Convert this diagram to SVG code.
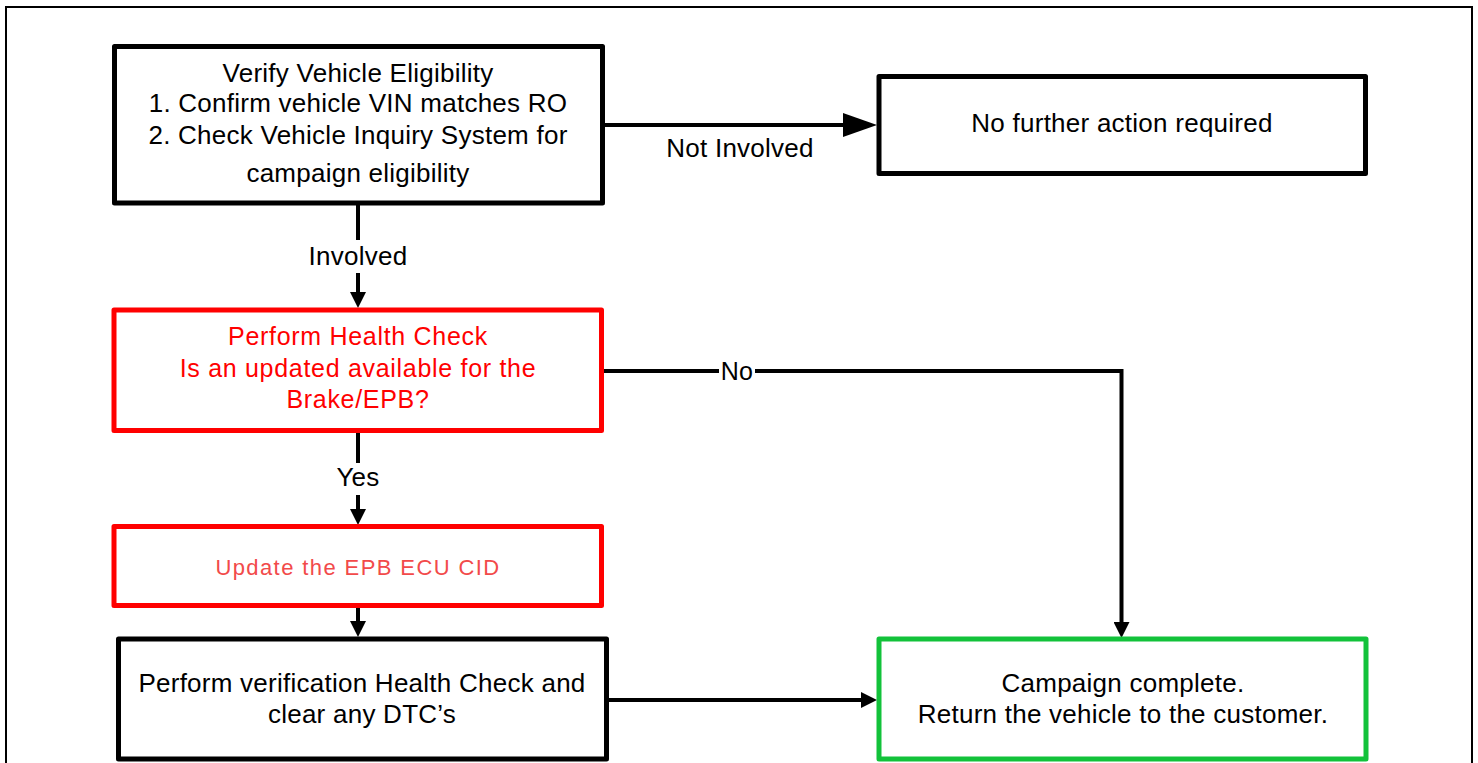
<svg xmlns="http://www.w3.org/2000/svg" width="1478" height="763" viewBox="0 0 1478 763">
<style>
  .box { fill: #ffffff; stroke-width: 5; stroke-linejoin: round; }
  .blk { stroke: #000000; }
  .red { stroke: #ff0000; }
  .grn { stroke: #12c23a; }
  .t { font-family: "Liberation Sans", Arial, sans-serif; font-size: 26px; fill: #000000; text-anchor: middle; letter-spacing: 0.25px; }
  .tr { font-family: "Liberation Sans", Arial, sans-serif; font-size: 25px; fill: #ff0000; text-anchor: middle; letter-spacing: 0.7px; }
  .tu { font-family: "Liberation Sans", Arial, sans-serif; font-size: 22px; fill: #f24a4a; text-anchor: middle; letter-spacing: 1.4px; }
  .ln { fill: none; stroke: #000000; stroke-width: 4; }
</style>
<defs>
  <marker id="arr" markerUnits="userSpaceOnUse" markerWidth="16" markerHeight="16" refX="6" refY="8" orient="auto">
    <path d="M0,0 L16,8 L0,16 z" fill="#000000"/>
  </marker>
  <marker id="arrL" markerUnits="userSpaceOnUse" markerWidth="34" markerHeight="24" refX="14" refY="12" orient="auto">
    <path d="M0,0 L34,12 L0,24 z" fill="#000000"/>
  </marker>
</defs>
<rect x="0" y="0" width="1478" height="763" fill="#ffffff"/>
<rect x="6" y="7" width="1466" height="790" fill="none" stroke="#000000" stroke-width="2"/>

<g id="connectors">
  <line class="ln" x1="605" y1="125" x2="857" y2="125" marker-end="url(#arrL)"/>
  <text class="t" x="740" y="157">Not Involved</text>

  <line class="ln" x1="358" y1="205" x2="358" y2="240"/>
  <line class="ln" x1="358" y1="273" x2="358" y2="298" marker-end="url(#arr)"/>
  <text class="t" x="358" y="265">Involved</text>

  <polyline class="ln" points="604,371 1121.5,371 1121.5,628" marker-end="url(#arr)"/>
  <rect x="719" y="358" width="36" height="26" fill="#ffffff"/>
  <text class="t" x="737" y="380" style="font-size:25px">No</text>

  <line class="ln" x1="358" y1="433" x2="358" y2="463"/>
  <line class="ln" x1="358" y1="495" x2="358" y2="515" marker-end="url(#arr)"/>
  <text class="t" x="358" y="486">Yes</text>

  <line class="ln" x1="358" y1="608" x2="358" y2="627" marker-end="url(#arr)"/>

  <line class="ln" x1="609" y1="700" x2="867" y2="700" marker-end="url(#arr)"/>
</g>

<g id="verify">
  <rect class="box blk" x="114.5" y="46.5" width="488" height="156.5"/>
  <text class="t" x="358" y="82">Verify Vehicle Eligibility</text>
  <text class="t" x="358" y="112">1. Confirm vehicle VIN matches RO</text>
  <text class="t" x="358" y="144">2. Check Vehicle Inquiry System for</text>
  <text class="t" x="358" y="182">campaign eligibility</text>
</g>

<g id="no-action">
  <rect class="box blk" x="879" y="76.5" width="486.5" height="97"/>
  <text class="t" x="1122" y="132">No further action required</text>
</g>

<g id="health-check">
  <rect class="box red" x="114" y="310" width="487.5" height="120.5"/>
  <text class="tr" x="358" y="345">Perform Health Check</text>
  <text class="tr" x="358" y="377">Is an updated available for the</text>
  <text class="tr" x="358" y="408">Brake/EPB?</text>
</g>

<g id="update">
  <rect class="box red" x="114" y="526.5" width="487.5" height="79"/>
  <text class="tu" x="358" y="575">Update the EPB ECU CID</text>
</g>

<g id="verification">
  <rect class="box blk" x="118.5" y="639" width="488" height="120"/>
  <text class="t" x="362" y="692">Perform verification Health Check and</text>
  <text class="t" x="362" y="723">clear any DTC’s</text>
</g>

<g id="complete">
  <rect class="box grn" x="879" y="639" width="487" height="120"/>
  <text class="t" x="1123" y="692">Campaign complete.</text>
  <text class="t" x="1123" y="723">Return the vehicle to the customer.</text>
</g>
</svg>
